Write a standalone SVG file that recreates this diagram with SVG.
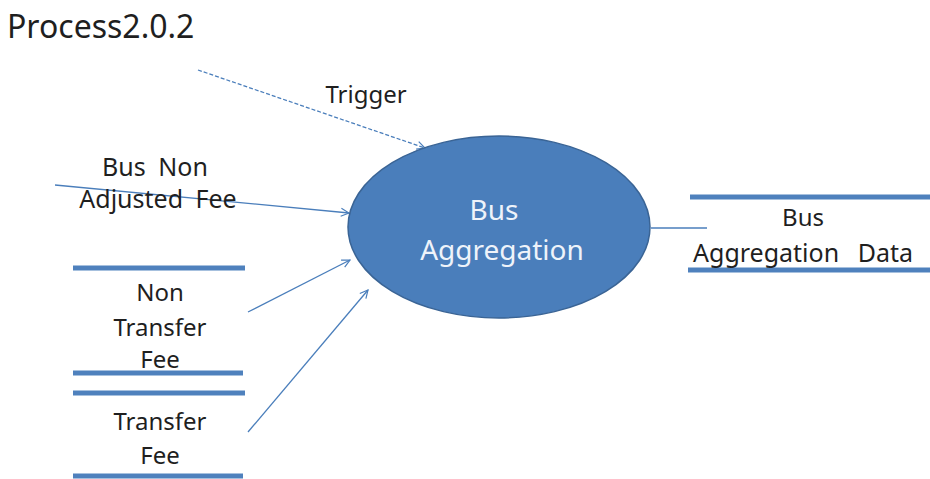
<svg xmlns="http://www.w3.org/2000/svg" width="930" height="479" viewBox="0 0 930 479">
  <defs>
    <marker id="arrow" viewBox="0 0 10 10" refX="9" refY="5" markerWidth="10" markerHeight="10" markerUnits="userSpaceOnUse" orient="auto">
      <path d="M1,1 L9,5 L1,9" fill="none" stroke="#4a7ebb" stroke-width="1.2"/>
    </marker>
  </defs>
  <style>
    .lbl { font-family: "Noto Sans", "Open Sans", sans-serif; font-size: 24px; fill: #1f1f1f; text-anchor: middle; word-spacing: 6px; }
    .title { font-family: "Noto Sans", "Open Sans", sans-serif; font-size: 32px; fill: #1f1f1f; }
    .inner { font-family: "Noto Sans", "Open Sans", sans-serif; font-size: 28px; fill: #eef3fa; text-anchor: middle; }
    .flow { stroke: #4a7ebb; stroke-width: 1.3; fill: none; }
    .dash { stroke-dasharray: 4 2; }
    .bar { stroke: #4f81bd; stroke-width: 5; }
  </style>
  <rect width="930" height="479" fill="#ffffff"/>

  <text class="title" x="7" y="38">Process2.0.2</text>

  <!-- connectors -->
  <g id="connectors">
    <line class="flow dash" x1="198" y1="70" x2="425" y2="148" marker-end="url(#arrow)"/>
    <line class="flow" x1="55" y1="185" x2="349" y2="213" marker-end="url(#arrow)"/>
    <line class="flow" x1="248" y1="312" x2="350" y2="260" marker-end="url(#arrow)"/>
    <line class="flow" x1="248" y1="432" x2="368" y2="290" marker-end="url(#arrow)"/>
    <line class="flow" x1="651" y1="228" x2="707" y2="228"/>
    <text class="lbl" x="366" y="103">Trigger</text>
  </g>

  <!-- process -->
  <g id="bus-aggregation">
    <ellipse cx="499" cy="227" rx="151" ry="91" fill="#4a7ebb" stroke="#3a6495" stroke-width="1.5"/>
    <text class="inner" x="494" y="220">Bus</text>
    <text class="inner" x="502" y="260">Aggregation</text>
  </g>

  <!-- external input -->
  <g id="bus-non-adjusted-fee">
    <text class="lbl" x="155" y="176" style="font-size:25px">Bus Non</text>
    <text class="lbl" x="158" y="208" style="font-size:25px">Adjusted Fee</text>
  </g>

  <!-- data stores -->
  <g id="non-transfer-fee">
    <line class="bar" x1="73" y1="268" x2="245" y2="268"/>
    <line class="bar" x1="73" y1="373" x2="243" y2="373"/>
    <text class="lbl" x="160" y="301">Non</text>
    <text class="lbl" x="160" y="336">Transfer</text>
    <text class="lbl" x="160" y="368">Fee</text>
  </g>

  <g id="transfer-fee">
    <line class="bar" x1="73" y1="393" x2="245" y2="393"/>
    <line class="bar" x1="73" y1="476" x2="243" y2="476"/>
    <text class="lbl" x="160" y="430">Transfer</text>
    <text class="lbl" x="160" y="464">Fee</text>
  </g>

  <g id="bus-aggregation-data">
    <line class="bar" x1="690" y1="197" x2="930" y2="197"/>
    <line class="bar" x1="688" y1="270" x2="930" y2="270"/>
    <text class="lbl" x="803" y="226">Bus</text>
    <text class="lbl" x="803" y="262" style="font-size:25px;word-spacing:12px">Aggregation Data</text>
  </g>
</svg>
